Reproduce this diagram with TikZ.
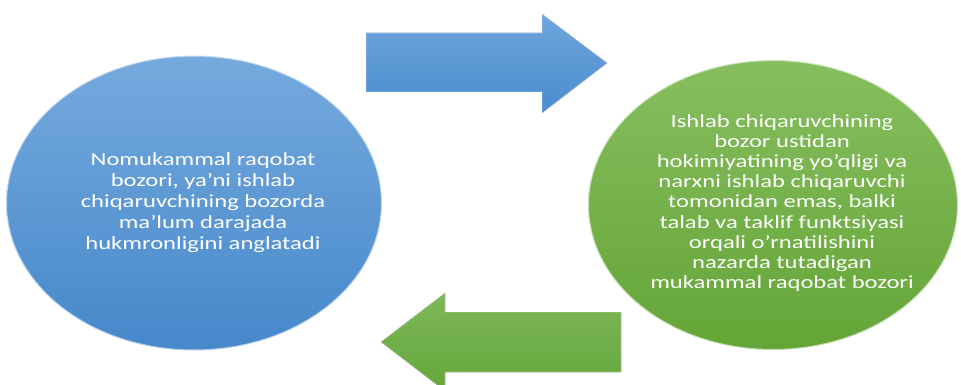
\documentclass[tikz,border=0pt]{standalone}
\usepackage{fontspec}
\setmainfont{Carlito}[FakeStretch=1.33,Ligatures=ResetAll]
\usetikzlibrary{shapes.geometric}
\definecolor{bluetop}{RGB}{118,170,222}
\definecolor{bluebot}{RGB}{70,136,203}
\definecolor{greentop}{RGB}{135,190,95}
\definecolor{greenbot}{RGB}{100,165,55}
\definecolor{arrbluetop}{RGB}{110,166,220}
\definecolor{arrbluebot}{RGB}{74,140,206}
\definecolor{arrgreentop}{RGB}{125,184,88}
\definecolor{arrgreenbot}{RGB}{102,166,60}
\tikzset{
  oval/.style={ellipse, inner sep=0pt, draw=white, line width=2pt, draw opacity=0.6},
  txt/.style={text=white, align=center, font=\fontsize{18.5}{21}\selectfont},
  blk/.style={draw=white, draw opacity=0.35, line width=0.8pt, line join=miter}
}
\begin{document}
\begin{tikzpicture}[x=1pt,y=-1pt]
\useasboundingbox (0,0) rectangle (961,385);
\clip (0,0) rectangle (961,385);
\node[oval, top color=bluetop, bottom color=bluebot, minimum width=376pt, minimum height=295pt] (left) at (194,203) {};
\node[oval, top color=greentop, bottom color=greenbot, minimum width=370pt, minimum height=290pt] (right) at (773,205) {};
\node[txt] (ltext) at (203,203) {Nomukammal raqobat\\bozori, ya'ni ishlab\\chiqaruvchining bozorda\\ma'lum darajada\\hukmronligini anglatadi};
\node[txt, font=\fontsize{18.5}{20.1}\selectfont] (rtext) at (782,203) {Ishlab chiqaruvchining\\bozor ustidan\\hokimiyatining yo'qligi va\\narxni ishlab chiqaruvchi\\tomonidan emas, balki\\talab va taklif funktsiyasi\\orqali o'rnatilishini\\nazarda tutadigan\\mukammal raqobat bozori};
\fill[top color=arrbluetop, bottom color=arrbluebot, blk] (366,33) -- (542,33) -- (542,14) -- (607,63) -- (542,113) -- (542,92) -- (366,92) -- cycle;
\fill[top color=arrgreentop, bottom color=arrgreenbot, blk] (621,312) -- (445,312) -- (445,293) -- (381,342) -- (445,391) -- (445,372) -- (621,372) -- cycle;
\end{tikzpicture}
\end{document}
